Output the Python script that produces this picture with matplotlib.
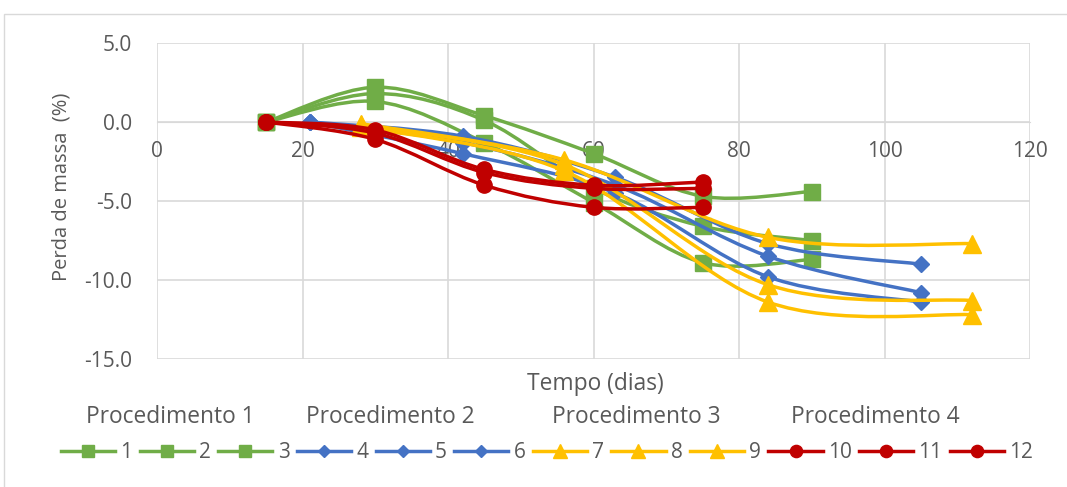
import matplotlib.pyplot as plt
import matplotlib
import numpy as np
from matplotlib.path import Path
from matplotlib.patches import PathPatch, Rectangle
from matplotlib.lines import Line2D

matplotlib.rcParams["font.family"] = ["Open Sans", "DejaVu Sans"]

# 天数 (dias)
x_p1 = [15, 30, 45, 60, 75, 90]
x_p2 = [21, 42, 63, 84, 105]
x_p3 = [28, 56, 84, 112]
x_p4 = [15, 30, 45, 60, 75]

# 质量损失 (%)
s1 = [0.0, 2.2, 0.4, -2.0, -4.7, -4.4]
s2 = [0.0, 1.8, 0.1, -4.2, -6.6, -7.5]
s3 = [0.0, 1.3, -1.3, -5.1, -8.9, -8.7]
s4 = [0.0, -0.9, -3.5, -7.7, -9.0]
s5 = [0.0, -1.3, -4.0, -8.5, -10.8]
s6 = [0.0, -2.0, -4.5, -9.8, -11.4]
s7 = [-0.1, -2.4, -7.3, -7.7]
s8 = [-0.2, -2.7, -10.3, -11.3]
s9 = [-0.3, -3.1, -11.4, -12.2]
s10 = [0.0, -0.5, -3.0, -4.0, -3.8]
s11 = [0.0, -0.7, -3.2, -4.2, -4.2]
s12 = [0.0, -1.1, -4.0, -5.4, -5.4]

labels = ["1", "2", "3", "4", "5", "6", "7", "8", "9", "10", "11", "12"]
groups = ["Procedimento 1", "Procedimento 2", "Procedimento 3", "Procedimento 4"]

GREEN, BLUE, YELLOW, RED = "#70AD47", "#4472C4", "#FFC000", "#C00000"
series = [
    (x_p1, s1, GREEN, "s", 11), (x_p1, s2, GREEN, "s", 11), (x_p1, s3, GREEN, "s", 11),
    (x_p2, s4, BLUE, "D", 8), (x_p2, s5, BLUE, "D", 8), (x_p2, s6, BLUE, "D", 8),
    (x_p3, s7, YELLOW, "^", 13), (x_p3, s8, YELLOW, "^", 13), (x_p3, s9, YELLOW, "^", 13),
    (x_p4, s10, RED, "o", 11), (x_p4, s11, RED, "o", 11), (x_p4, s12, RED, "o", 11),
]
TEXT = "#595959"
GRID = "#D9D9D9"


def smooth_path(xs, ys, t=1 / 6):
    # 类似Excel平滑线: 贝塞尔曲线
    p = np.column_stack([xs, ys]).astype(float)
    ext = np.vstack([p[0], p, p[-1]])
    verts = [p[0]]
    codes = [Path.MOVETO]
    for i in range(len(p) - 1):
        p0, p1, p2, p3 = ext[i], ext[i + 1], ext[i + 2], ext[i + 3]
        verts += [p1 + (p2 - p0) * t, p2 - (p3 - p1) * t, p2]
        codes += [Path.CURVE4] * 3
    return Path(verts, codes)


W, H = 1067, 487
fig = plt.figure(figsize=(W / 100, H / 100), dpi=100)
ax = fig.add_axes([157 / W, 1 - 359 / H, (1030 - 157) / W, (359 - 43) / H])

fig.patches.append(Rectangle((4 / W, -0.01), 1.0, 1 - 14 / H + 0.01, transform=fig.transFigure,
                             fill=False, edgecolor=GRID, linewidth=1.0))

handles = []
for i, (xs, ys, c, m, ms) in enumerate(series):
    z = 3 + i
    ax.add_patch(PathPatch(smooth_path(xs, ys), facecolor="none", edgecolor=c, linewidth=2.5, zorder=z))
    ax.plot(xs, ys, linestyle="none", marker=m, markersize=ms, color=c, zorder=z)
    handles.append(Line2D([], [], color=c, linewidth=2.5, marker=m, markersize=ms * 0.8))

ax.set_xlim(0, 120)
ax.set_ylim(-15, 5)
ax.set_xticks(range(0, 121, 20))
ax.set_yticks([5, 0, -5, -10, -15])
ax.set_yticklabels([f"{v:.1f}" for v in [5, 0, -5, -10, -15]])
ax.grid(True, color=GRID, linewidth=1.2, zorder=0)
ax.set_axisbelow(True)
for side in ["top", "right", "left"]:
    ax.spines[side].set_visible(False)
ax.spines["bottom"].set_position(("data", 0))
ax.spines["bottom"].set_color(GRID)
ax.tick_params(length=0, labelsize=15, colors=TEXT)
ax.tick_params(axis="x", pad=14)
ax.tick_params(axis="y", pad=18)

fig.text(61 / W, 1 - 187 / H, "Perda de massa  (%)", rotation=90, ha="center", va="center",
         fontsize=14.5, color=TEXT)
fig.text(595 / W, 1 - 384 / H, "Tempo (dias)", ha="center", va="center", fontsize=16.4, color=TEXT)

for g, gx in zip(groups, [170, 390, 636, 875]):
    fig.text(gx / W, 1 - 417 / H, g, ha="center", va="center", fontsize=16.4, color=TEXT)

leg = fig.legend(handles, labels, loc="center", bbox_to_anchor=(547 / W, 1 - 453 / H), ncol=12,
                 frameon=False, handlelength=2.6, handletextpad=0.25, columnspacing=0.35, fontsize=15)
for t in leg.get_texts():
    t.set_color(TEXT)

fig.savefig("out.png", dpi=100)
